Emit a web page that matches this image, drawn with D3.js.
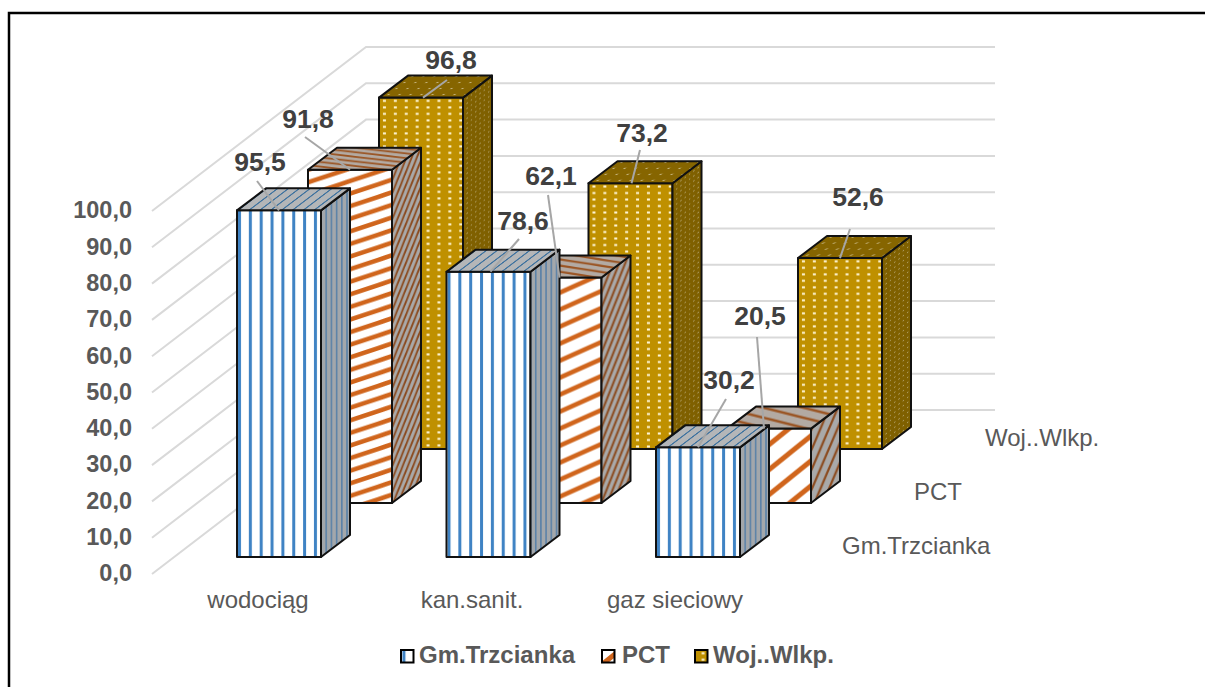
<!DOCTYPE html>
<html>
<head>
<meta charset="utf-8">
<script src="https://cdn.jsdelivr.net/npm/d3@7"></script>
<style>
  html, body { margin: 0; padding: 0; background: #fff; }
  svg { display: block; }
  text { font-family: "Liberation Sans", Arial, sans-serif; }
</style>
</head>
<body>
<svg id="chart" width="1205" height="687"></svg>
<script>
var categories = ["wodociąg", "kan.sanit.", "gaz sieciowy"];
var seriesNames = ["Gm.Trzcianka", "PCT", "Woj..Wlkp."];
var gmValues = [95.5, 78.6, 30.2];
var pctValues = [91.8, 62.1, 20.5];
var wojValues = [96.8, 73.2, 52.6];
var seriesValues = [gmValues, pctValues, wojValues];
var tickValues = [0, 10, 20, 30, 40, 50, 60, 70, 80, 90, 100];

var svg = d3.select("#chart");
var defs = svg.append("defs");

var barWidth = 84;
var depthX = 29;
var depthY = -22;
var barStroke = "#111";

// category goes left to right, series goes "into" the picture
var xScale = d3.scalePoint().domain(categories).range([237, 656]);
var seriesX = d3.scalePoint().domain(seriesNames).range([0, 142]);
var seriesBase = d3.scalePoint().domain(seriesNames).range([557, 449]);
var heightScale = d3.scaleLinear().domain([0, 100]).range([0, 363]);

// walls of the 3d box
var axisScale = d3.scaleLinear().domain([0, 100]).range([574, 211]);
var wallLeft = 152, wallCorner = 366, wallRight = 995, wallShift = -164;

// pattern helpers
var skewSide = "skewY(" + (Math.atan(depthY / depthX) * 180 / Math.PI) + ")";
var skewTop = "skewX(" + (Math.atan(depthX / depthY) * 180 / Math.PI) + ")";

function newPattern(id, w, h, bg, transform) {
  var p = defs.append("pattern")
    .attr("id", id)
    .attr("patternUnits", "userSpaceOnUse")
    .attr("width", w)
    .attr("height", h);
  if (transform) p.attr("patternTransform", transform);
  p.append("rect").attr("width", w).attr("height", h).attr("fill", bg);
  return p;
}

function vStripes(id, w, h, bg, color, sw, transform, x0) {
  var p = newPattern(id, w, h, bg, transform);
  p.append("rect").attr("x", x0 || 0).attr("width", sw).attr("height", h).attr("fill", color);
}

// diagonal stripes across a tile, up = rising to the right
function diagStripes(id, w, h, bg, color, sw, up) {
  var p = newPattern(id, w, h, bg);
  var d = up
    ? "M" + -w + "," + h + "L" + w + "," + -h + "M0," + h + "L" + w + ",0M0," + (2 * h) + "L" + (2 * w) + ",0"
    : "M" + -w + ",0L" + w + "," + (2 * h) + "M0,0L" + w + "," + h + "M0," + -h + "L" + (2 * w) + "," + h;
  p.append("path").attr("d", d).attr("stroke", color).attr("stroke-width", sw).attr("fill", "none");
}

function dots(id, w, h, bg, color, dotW, dotH, transform) {
  var p = newPattern(id, w, h, bg, transform);
  p.append("rect")
    .attr("x", (w - dotW) / 2).attr("y", (h - dotH) / 2)
    .attr("width", dotW).attr("height", dotH)
    .attr("fill", color);
}

// Gm.Trzcianka
vStripes("gmFront", 10.85, 10, "#fff", "#3f83c4", 3, null, 1);
vStripes("gmSide", 5.2, 10, "#a3a7ab", "#5b82a8", 1.6);
vStripes("gmTop", 10.85, 10, "#b4b6b8", "#40739f", 2, skewTop);

// PCT stripes get stretched with the height of the bar, one set per bar
var pctFrontTile = [[38, 12.6, 4.4], [38, 17, 4.6], [31, 25, 5]];
var pctSideTile = [[5.2, 13, 1.8], [6, 15, 2], [8.5, 20, 2.2]];
var pctTopTile = [[40, 4.6, 1.7], [40, 6.2, 2], [40, 10, 2.6]];
categories.forEach(function (c, i) {
  diagStripes("pctFront" + i, pctFrontTile[i][0], pctFrontTile[i][1], "#fff", "#d0651c", pctFrontTile[i][2], true);
  diagStripes("pctSide" + i, pctSideTile[i][0], pctSideTile[i][1], "#a9a9a9", "#8b4a1e", pctSideTile[i][2], true);
  diagStripes("pctTop" + i, pctTopTile[i][0], pctTopTile[i][1], "#b3aaa3", "#9a5423", pctTopTile[i][2], false);
});

// Woj..Wlkp.
dots("wojFront", 10.9, 6.5, "#bf9000", "#fff6d6", 3, 2);
dots("wojSide", 4.3, 5, "#7f6000", "#b5a36c", 1.2, 1.2, skewSide);
dots("wojTop", 11, 6, "#866500", "#c4b27a", 2, 1.3, skewTop);

function fills(seriesIndex, catIndex) {
  if (seriesIndex === 0) return { front: "url(#gmFront)", side: "url(#gmSide)", top: "url(#gmTop)" };
  if (seriesIndex === 1) return { front: "url(#pctFront" + catIndex + ")", side: "url(#pctSide" + catIndex + ")", top: "url(#pctTop" + catIndex + ")" };
  return { front: "url(#wojFront)", side: "url(#wojSide)", top: "url(#wojTop)" };
}

// frame, only left and top are visible in the crop
svg.append("path")
  .attr("d", "M9,687V13H1205")
  .attr("fill", "none")
  .attr("stroke", "#000")
  .attr("stroke-width", 2.5);

// gridlines
var grid = svg.append("g").attr("fill", "none").attr("stroke", "#d9d9d9").attr("stroke-width", 2);
tickValues.forEach(function (v) {
  var y0 = axisScale(v);
  grid.append("path")
    .attr("d", d3.line()([[wallLeft, y0], [wallCorner, y0 + wallShift], [wallRight, y0 + wallShift]]));
});

// y axis
var fmt = function (d) { return d3.format(".1f")(d).replace(".", ","); };
var axisG = svg.append("g")
  .attr("transform", "translate(135,0)")
  .call(d3.axisLeft(axisScale).tickValues(tickValues).tickFormat(fmt).tickSize(0));
axisG.select(".domain").remove();
axisG.selectAll("text")
  .attr("x", -3)
  .attr("dy", "0.29em")
  .attr("fill", "#595959")
  .attr("font-size", 23.5)
  .attr("font-weight", "bold");
axisG.attr("font-family", null);

// bars, from the back row to the front row
var bars = svg.append("g");
[2, 1, 0].forEach(function (s) {
  var name = seriesNames[s];
  categories.forEach(function (c, i) {
    var value = seriesValues[s][i];
    var h = heightScale(value);
    var g = bars.append("g")
      .attr("transform", "translate(" + (xScale(c) + seriesX(name)) + "," + (seriesBase(name) - h) + ")")
      .attr("stroke", barStroke)
      .attr("stroke-width", 2)
      .attr("stroke-linejoin", "round");
    var f = fills(s, i);
    g.append("rect").attr("width", barWidth).attr("height", h).attr("fill", f.front);
    g.append("path")
      .attr("d", d3.line()([[barWidth, 0], [barWidth + depthX, depthY], [barWidth + depthX, h + depthY], [barWidth, h]]) + "Z")
      .attr("fill", f.side);
    g.append("path")
      .attr("d", d3.line()([[0, 0], [depthX, depthY], [barWidth + depthX, depthY], [barWidth, 0]]) + "Z")
      .attr("fill", f.top);
  });
});

// leader lines and data labels, placed by hand like in the original
var labelSpots = [
  [[260, 171], [523, 230], [729, 389]],
  [[308, 128], [551, 185], [760, 325]],
  [[451, 69], [642, 142], [858, 206]]
];
var leaderStarts = [
  [[257, 181], [519, 239], [726, 399]],
  [[305, 137], [548, 195], [757, 337]],
  [[447, 80], [640, 150], [850, 229]]
];
var leaderEnds = [
  [42, 44, 42],
  [42, 42, 37],
  [44, 43, 42]
];
[2, 1, 0].forEach(function (s) {
  var name = seriesNames[s];
  categories.forEach(function (c, i) {
    var value = seriesValues[s][i];
    var endX = xScale(c) + seriesX(name) + leaderEnds[s][i];
    var endY = seriesBase(name) - heightScale(value);
    svg.append("path")
      .attr("d", d3.line()([leaderStarts[s][i], [endX, endY]]))
      .attr("stroke", "#a6a6a6")
      .attr("stroke-width", 2)
      .attr("fill", "none");
  });
});
[2, 1, 0].forEach(function (s) {
  categories.forEach(function (c, i) {
    svg.append("text")
      .attr("x", labelSpots[s][i][0])
      .attr("y", labelSpots[s][i][1])
      .attr("text-anchor", "middle")
      .attr("font-size", 26.5)
      .attr("font-weight", "bold")
      .attr("fill", "#404040")
      .text(fmt(seriesValues[s][i]));
  });
});

// category labels
var catLabelX = [258, 472, 675];
categories.forEach(function (c, i) {
  svg.append("text")
    .attr("x", catLabelX[i])
    .attr("y", 608)
    .attr("text-anchor", "middle")
    .attr("font-size", 24)
    .attr("fill", "#595959")
    .text(c);
});

// series labels on the depth axis
var depthLabelX = [842, 914, 985];
var depthLabelY = [554, 500, 446];
seriesNames.forEach(function (n, i) {
  svg.append("text")
    .attr("x", depthLabelX[i])
    .attr("y", depthLabelY[i])
    .attr("font-size", 24)
    .attr("fill", "#595959")
    .text(n);
});

// legend
var legendSwatchX = [401, 602, 695];
var legendTextX = [419, 622, 713];
var legendFront = ["url(#gmFront)", "url(#pctFront2)", "url(#wojFront)"];
seriesNames.forEach(function (n, i) {
  svg.append("rect")
    .attr("x", legendSwatchX[i])
    .attr("y", 650)
    .attr("width", 12.5)
    .attr("height", 12.5)
    .attr("fill", legendFront[i])
    .attr("stroke", "#000")
    .attr("stroke-width", 2);
  svg.append("text")
    .attr("x", legendTextX[i])
    .attr("y", 663)
    .attr("font-size", 24)
    .attr("font-weight", "bold")
    .attr("fill", "#595959")
    .text(n);
});
</script>
</body>
</html>
